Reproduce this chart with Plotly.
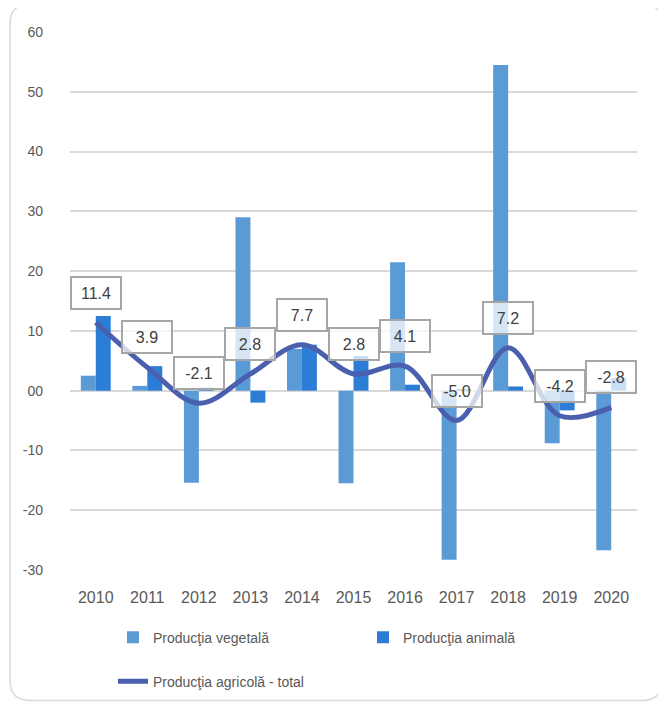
import plotly.graph_objects as go

years = ["2010", "2011", "2012", "2013", "2014", "2015", "2016", "2017", "2018", "2019", "2020"]
vegetala = [2.5, 0.8, -15.4, 29.0, 7.0, -15.5, 21.5, -28.3, 54.5, -8.8, -26.7]
animala = [12.5, 4.1, 0.5, -2.0, 7.7, 5.8, 1.0, 0.3, 0.7, -3.3, 2.1]
total = [11.4, 3.9, -2.1, 2.8, 7.7, 2.8, 4.1, -5.0, 7.2, -4.2, -2.8]
y_ticks = [60, 50, 40, 30, 20, 10, 0, -10, -20, -30]
y_tick_text = ["60", "50", "40", "30", "20", "10", "00", "-10", "-20", "-30"]

FONT = "Liberation Sans"

fig = go.Figure()
fig.add_trace(go.Bar(x=years, y=vegetala, name="Producţia vegetală",
                     marker=dict(color="#5B9BD5", line=dict(width=0)), legend="legend"))
fig.add_trace(go.Bar(x=years, y=animala, name="Producţia animală",
                     marker=dict(color="#2B7DD5", line=dict(width=0)), legend="legend"))
fig.add_trace(go.Scatter(x=years, y=total, name="Producţia agricolă - total", mode="lines",
                         line=dict(color="#4A5FAD", width=5, shape="spline", smoothing=1.0),
                         legend="legend2"))

for i, v in enumerate(total):
    fig.add_annotation(x=i, y=v, yshift=30, text=f"{v:.1f}", showarrow=False,
                       font=dict(family=FONT, size=16, color="#404040"),
                       bgcolor="rgba(255,255,255,0.75)", bordercolor="#A6A6A6",
                       borderwidth=2, borderpad=4, width=40, height=22)

# chart-area rounded border
x0, x1 = -0.1058, 1.044
y0, y1 = -0.2426, 1.0519
rx, ry = 0.035, 0.037
path = (f"M {x0+rx},{y1} L {x1-rx},{y1} Q {x1},{y1} {x1},{y1-ry} "
        f"L {x1},{y0+ry} Q {x1},{y0} {x1-rx},{y0} L {x0+rx},{y0} "
        f"Q {x0},{y0} {x0},{y0+ry} L {x0},{y1-ry} Q {x0},{y1} {x0+rx},{y1} Z")
fig.add_shape(type="path", path=path, xref="paper", yref="paper",
              line=dict(color="#D9D9D9", width=1.5), layer="below")

fig.update_layout(
    width=658, height=701,
    margin=dict(l=62, r=29, t=24, b=137),
    paper_bgcolor="white", plot_bgcolor="white",
    barmode="group", bargap=0.42, bargroupgap=0,
    font=dict(family=FONT, size=14, color="#595959"),
    showlegend=True,
    legend=dict(orientation="h", x=(113-70)/567, y=(572-640)/540, xanchor="left", yanchor="middle",
                entrywidth=205, font=dict(size=14, color="#595959"), bgcolor="rgba(0,0,0,0)"),
    legend2=dict(orientation="h", x=(113-70)/567, y=(572-684)/540, xanchor="left", yanchor="middle",
                 font=dict(size=14, color="#595959"), bgcolor="rgba(0,0,0,0)"),
    xaxis=dict(type="category", range=[-0.5, 10.5], showgrid=False, showline=False, ticks="",
               tickfont=dict(size=16, color="#595959"), ticklabelstandoff=16),
    yaxis=dict(range=[-30, 60], tickvals=y_ticks, ticktext=y_tick_text,
               showgrid=True, gridcolor="#D9D9D9", gridwidth=1.5, zeroline=False,
               showline=False, ticks="", tickfont=dict(size=14, color="#595959"),
               ticklabelstandoff=26),
)

fig.write_html("out.html")
